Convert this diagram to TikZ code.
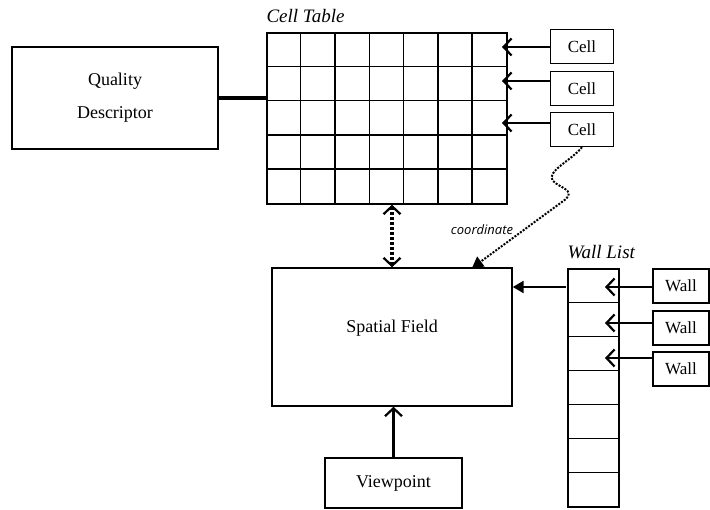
\documentclass[tikz,border=0pt]{standalone}
\usepackage{fontspec}
\setmainfont{Liberation Serif}
\newfontfamily\notefont{Open Sans}
\usetikzlibrary{arrows.meta}

\begin{document}
\begin{tikzpicture}[x=1pt, y=-1pt,
    box/.style={draw, line width=1.4pt, inner sep=0pt, font=\fontsize{18}{21}\selectfont},
    smallbox/.style={box, minimum height=34pt, font=\fontsize{17}{20}\selectfont},
    grid/.style={line width=1.4pt},
    barb/.tip={Straight Barb[length=8pt, width=17pt, line width=2.2pt]},
    open/.style={line width=2.4pt, -barb},
    fillarrow/.style={line width=2.4pt, -{Triangle[length=11pt, width=12pt]}},
    title/.style={font=\fontsize{19}{22}\selectfont\itshape, anchor=west}]

      \useasboundingbox (0,0) rectangle (710,510);

% Quality descriptor
      \node[box, minimum width=206pt, minimum height=102pt, align=center] (qd) at (115,98)
      {Quality\\[12pt]Descriptor};

% Cell table
      \node[draw, grid, minimum width=240pt, minimum height=171pt, inner sep=0pt] (table) at (387,118.5) {};
      \foreach \i in {1,...,6}
      \draw[grid] ([xshift=\i*34.3pt]table.north west) -- ([xshift=\i*34.3pt]table.south west);
      \foreach \i in {1,...,4}
      \draw[grid] ([yshift=-\i*34.2pt]table.north west) -- ([yshift=-\i*34.2pt]table.north east);
      \node[title] (tabletitle) at (263,16) {Cell Table};
      \draw[line width=4pt] (qd.east) -- (qd.east -| table.west);

% Cells
      \foreach \n/\y/\ay in {1/46.5/47, 2/88.5/81, 3/129.5/123} {
      \node[smallbox, minimum width=63pt] (cell\n) at (582,\y) {Cell};
      \coordinate (cin\n) at (502,\ay);
      \draw[open] (cell\n.west |- cin\n) -- (cin\n);
      }

% Spatial field
      \node[box, minimum width=240pt, minimum height=138pt,
      label={[font=\fontsize{18}{21}\selectfont, yshift=9pt]center:Spatial Field}] (sf) at (392,337) {};
      \draw[line width=3.4pt, dash pattern=on 3pt off 2pt, barb-barb]
      (sf.north |- table.south) -- (sf.north);

% Coordinate link
      \coordinate (sfin) at (472,268);
      \draw[line width=2pt, dash pattern=on 2pt off 1.4pt, -{Triangle[length=11pt, width=12pt]}]
      (cell3.south) .. controls (572,160) and (545,172) .. (553,181)
      .. controls (560,188) and (575,190) .. (566,199) -- (sfin);
      \node[font=\notefont\itshape\fontsize{13}{15}\selectfont] (coordlabel) at (482,230) {coordinate};

% Wall list
      \node[draw, grid, minimum width=51pt, minimum height=238pt, inner sep=0pt] (walls) at (593.5,388) {};
      \foreach \i in {1,...,6}
      \draw[grid] ([yshift=-\i*34pt]walls.north west) -- ([yshift=-\i*34pt]walls.north east);
      \node[title] (walltitle) at (564,252) {Wall List};
      \coordinate (wl) at (566,287);
      \draw[fillarrow] (wl) -- (sf.east |- wl);

% Walls
      \foreach \n/\y/\ay in {1/286/287, 2/328/323, 3/369/358} {
      \node[smallbox, minimum width=56pt] (wall\n) at (681,\y) {Wall};
      \coordinate (win\n) at (605,\ay);
      \draw[open] (wall\n.west |- win\n) -- (win\n);
      }

% Viewpoint
      \node[box, minimum width=137pt, minimum height=50pt] (vp) at (393.5,483) {Viewpoint};
      \draw[open] (vp.north) -- (vp.north |- sf.south);

\end{tikzpicture}
\end{document}
